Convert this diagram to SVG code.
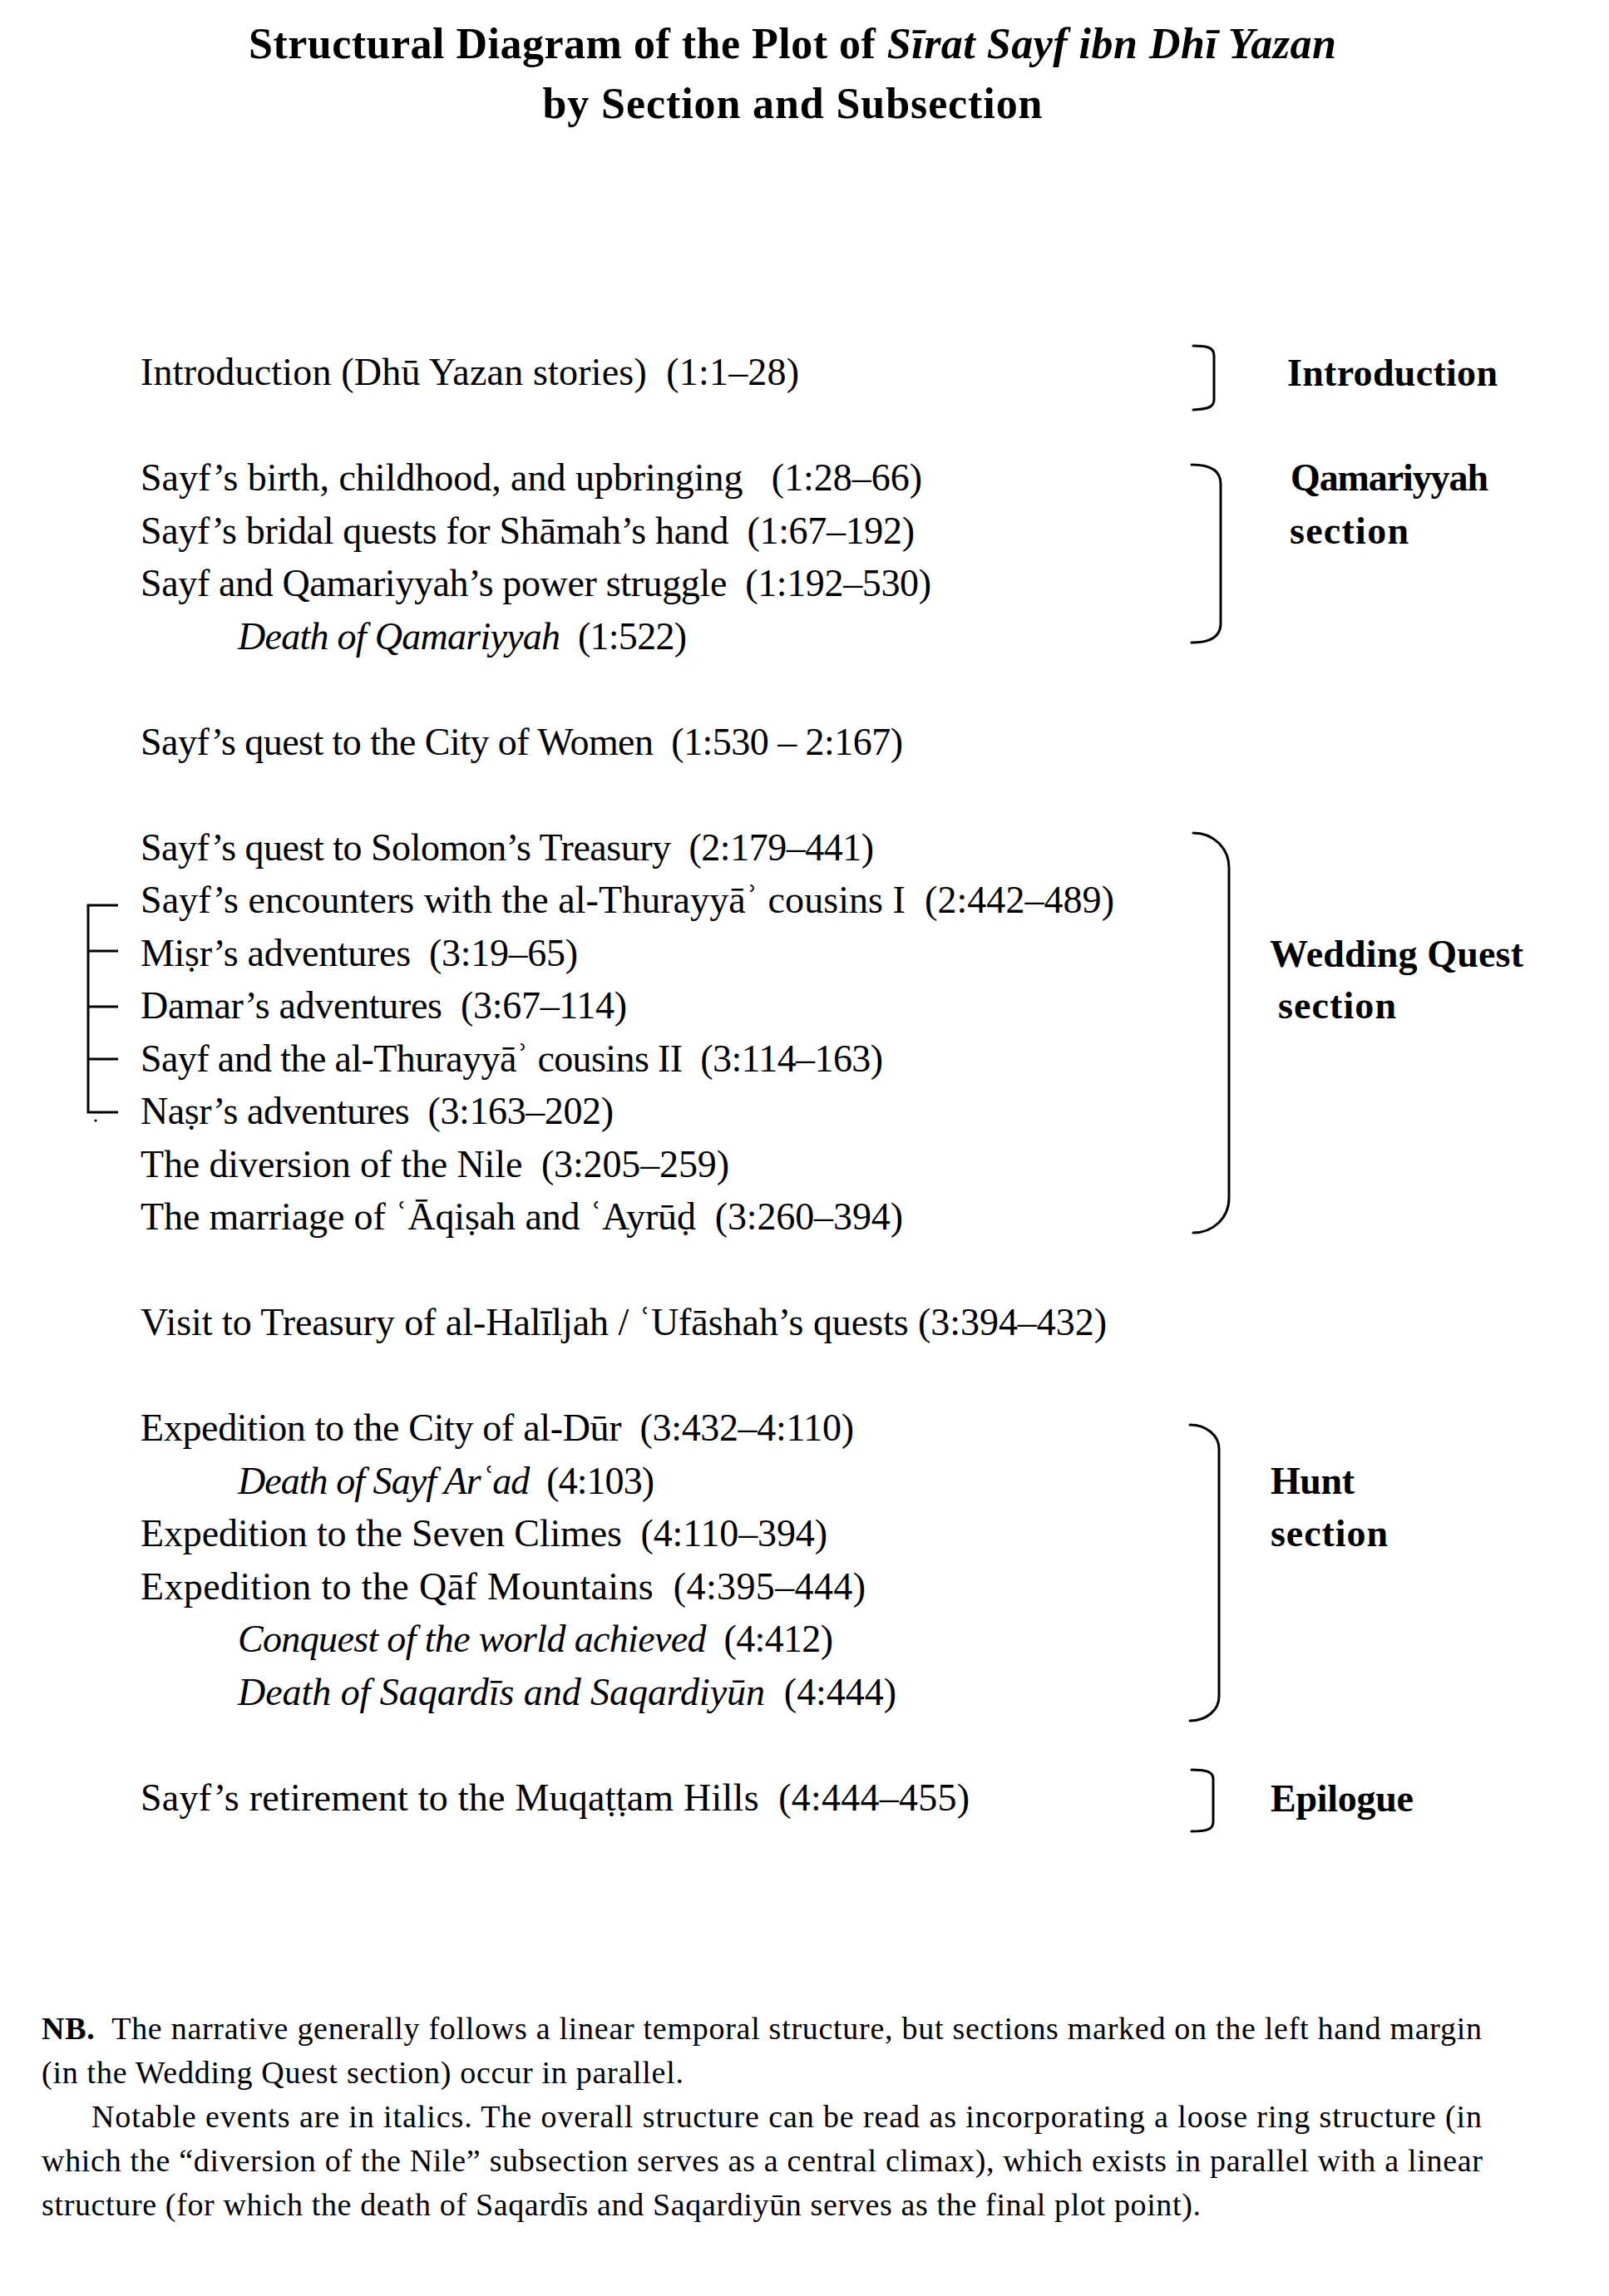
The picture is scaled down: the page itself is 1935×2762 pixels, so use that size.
<svg xmlns="http://www.w3.org/2000/svg" width="1935" height="2762" viewBox="0 0 1935 2762" xml:space="preserve">
<style>
text { font-family: "Liberation Serif", "DejaVu Serif", serif; fill: #000; white-space: pre; }
.t { font-size: 46px; }
.ttl { font-size: 52px; font-weight: bold; text-anchor: middle; }
.lbl { font-size: 46px; font-weight: bold; }
.nb { font-size: 38px; }
.i { font-style: italic; }
.b { font-weight: bold; }
.br { fill: none; stroke: #000; stroke-width: 3; stroke-linecap: round; stroke-linejoin: round; }
</style>
<rect x="0" y="0" width="1935" height="2762" fill="#fff"/>

<g id="title">
<text class="ttl" x="953" y="70" textLength="1308" lengthAdjust="spacing">Structural Diagram of the Plot of <tspan class="i">Sīrat Sayf ibn Dhī Yazan</tspan></text>
<text class="ttl" x="953" y="142" textLength="601" lengthAdjust="spacing">by Section and Subsection</text>
</g>

<g id="rows">
<g id="row-introduction"><text class="t" x="169" y="463" textLength="792" lengthAdjust="spacing">Introduction (Dhū Yazan stories)  (1:1–28)</text></g>
<g id="row-birth"><text class="t" x="169" y="590" textLength="940" lengthAdjust="spacing">Sayf’s birth, childhood, and upbringing   (1:28–66)</text></g>
<g id="row-bridal"><text class="t" x="169" y="653.5" textLength="931" lengthAdjust="spacing">Sayf’s bridal quests for Shāmah’s hand  (1:67–192)</text></g>
<g id="row-power"><text class="t" x="169" y="717" textLength="951" lengthAdjust="spacing">Sayf and Qamariyyah’s power struggle  (1:192–530)</text></g>
<g id="row-death-qamariyyah"><text class="t" x="286" y="780.5" textLength="540" lengthAdjust="spacing"><tspan class="i">Death of Qamariyyah</tspan>  (1:522)</text></g>
<g id="row-city-women"><text class="t" x="169" y="907.5" textLength="917" lengthAdjust="spacing">Sayf’s quest to the City of Women  (1:530 – 2:167)</text></g>
<g id="row-solomon"><text class="t" x="169" y="1034.5" textLength="882" lengthAdjust="spacing">Sayf’s quest to Solomon’s Treasury  (2:179–441)</text></g>
<g id="row-encounters"><text class="t" x="169" y="1098" textLength="1171" lengthAdjust="spacing">Sayf’s encounters with the al-Thurayyāʾ cousins I  (2:442–489)</text></g>
<g id="row-misr"><text class="t" x="169" y="1161.5" textLength="526" lengthAdjust="spacing">Miṣr’s adventures  (3:19–65)</text></g>
<g id="row-damar"><text class="t" x="169" y="1225" textLength="585" lengthAdjust="spacing">Damar’s adventures  (3:67–114)</text></g>
<g id="row-cousins-ii"><text class="t" x="169" y="1288.5" textLength="893" lengthAdjust="spacing">Sayf and the al-Thurayyāʾ cousins II  (3:114–163)</text></g>
<g id="row-nasr"><text class="t" x="169" y="1352" textLength="569" lengthAdjust="spacing">Naṣr’s adventures  (3:163–202)</text></g>
<g id="row-nile"><text class="t" x="169" y="1415.5" textLength="708" lengthAdjust="spacing">The diversion of the Nile  (3:205–259)</text></g>
<g id="row-marriage"><text class="t" x="169" y="1479" textLength="917" lengthAdjust="spacing">The marriage of ʿĀqiṣah and ʿAyrūḍ  (3:260–394)</text></g>
<g id="row-visit"><text class="t" x="169" y="1606" textLength="1162" lengthAdjust="spacing">Visit to Treasury of al-Halīljah / ʿUfāshah’s quests (3:394–432)</text></g>
<g id="row-dur"><text class="t" x="169" y="1733" textLength="858" lengthAdjust="spacing">Expedition to the City of al-Dūr  (3:432–4:110)</text></g>
<g id="row-death-arad"><text class="t" x="286" y="1796.5" textLength="501" lengthAdjust="spacing"><tspan class="i">Death of Sayf Arʿad</tspan>  (4:103)</text></g>
<g id="row-seven-climes"><text class="t" x="169" y="1860" textLength="826" lengthAdjust="spacing">Expedition to the Seven Climes  (4:110–394)</text></g>
<g id="row-qaf"><text class="t" x="169" y="1923.5" textLength="872" lengthAdjust="spacing">Expedition to the Qāf Mountains  (4:395–444)</text></g>
<g id="row-conquest"><text class="t" x="286" y="1987" textLength="716" lengthAdjust="spacing"><tspan class="i">Conquest of the world achieved</tspan>  (4:412)</text></g>
<g id="row-death-saqardis"><text class="t" x="286" y="2050.5" textLength="792" lengthAdjust="spacing"><tspan class="i">Death of Saqardīs and Saqardiyūn</tspan>  (4:444)</text></g>
<g id="row-retirement"><text class="t" x="169" y="2177.5" textLength="997" lengthAdjust="spacing">Sayf’s retirement to the Muqaṭṭam Hills  (4:444–455)</text></g>
</g>

<g id="section-labels">
<g id="label-introduction"><text class="lbl" x="1548" y="464" textLength="253" lengthAdjust="spacing">Introduction</text></g>
<g id="label-qamariyyah"><text class="lbl" x="1552" y="590" textLength="238" lengthAdjust="spacing">Qamariyyah</text><text class="lbl" x="1551" y="654" textLength="143" lengthAdjust="spacing">section</text></g>
<g id="label-wedding"><text class="lbl" x="1527" y="1163" textLength="305" lengthAdjust="spacing">Wedding Quest</text><text class="lbl" x="1537" y="1225" textLength="142" lengthAdjust="spacing">section</text></g>
<g id="label-hunt"><text class="lbl" x="1528" y="1797" textLength="101" lengthAdjust="spacing">Hunt</text><text class="lbl" x="1528" y="1860" textLength="141" lengthAdjust="spacing">section</text></g>
<g id="label-epilogue"><text class="lbl" x="1528" y="2179" textLength="172" lengthAdjust="spacing">Epilogue</text></g>
</g>

<g id="connectors">
<path class="br" d="M1435 416 C1452 416 1460 418 1460 428 V481 C1460 490 1452 492 1435 493"/>
<path class="br" d="M1433 559 C1455 559 1468 566 1468 582 V750 C1468 766 1455 773 1433 773"/>
<path class="br" d="M1435 1002 C1459 1002 1478 1020 1478 1044 V1441 C1478 1465 1459 1483 1435 1483"/>
<path class="br" d="M1431 1714 C1451 1714 1466 1727 1466 1743 V2041 C1466 2057 1451 2070 1431 2070"/>
<path class="br" d="M1433 2129 C1450 2129 1459 2131 1459 2140 V2192 C1459 2201 1450 2203 1433 2203"/>
<path class="br" style="stroke-linecap:butt;stroke-linejoin:miter" d="M142 1089 H106 V1338 H142 M106 1144 H142 M106 1211 H142 M106 1274 H142"/>
<circle cx="115" cy="1348" r="1.6" fill="#000"/>
</g>

<g id="note">
<text class="nb" x="50" y="2453" textLength="1732" lengthAdjust="spacing"><tspan class="b">NB.</tspan>  The narrative generally follows a linear temporal structure, but sections marked on the left hand margin</text>
<text class="nb" x="50" y="2506" textLength="772" lengthAdjust="spacing">(in the Wedding Quest section) occur in parallel.</text>
<text class="nb" x="110" y="2559" textLength="1672" lengthAdjust="spacing">Notable events are in italics. The overall structure can be read as incorporating a loose ring structure (in</text>
<text class="nb" x="50" y="2612" textLength="1733" lengthAdjust="spacing">which the “diversion of the Nile” subsection serves as a central climax), which exists in parallel with a linear</text>
<text class="nb" x="50" y="2665" textLength="1394" lengthAdjust="spacing">structure (for which the death of Saqardīs and Saqardiyūn serves as the final plot point).</text>
</g>
</svg>
